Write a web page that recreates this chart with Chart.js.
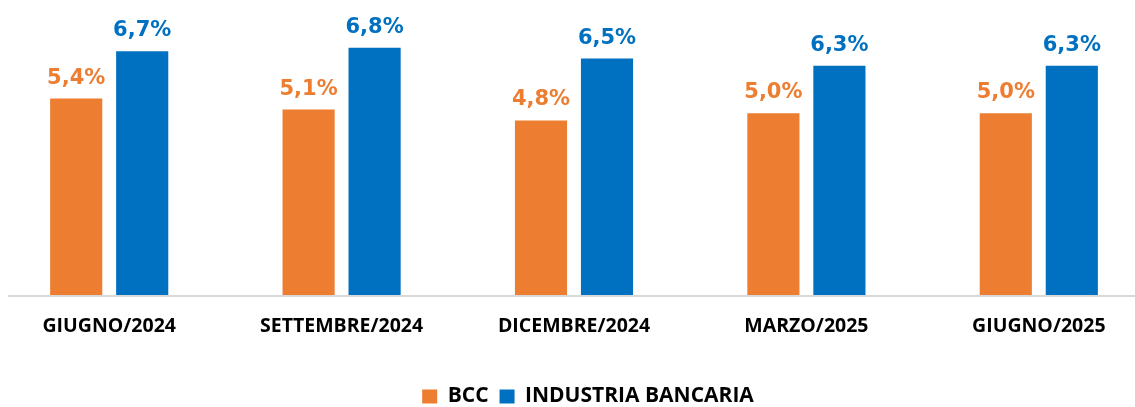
<!DOCTYPE html>
<html>
<head>
<meta charset="utf-8">
<script src="https://cdn.jsdelivr.net/npm/chart.js@4.4.1/dist/chart.umd.min.js"></script>
<style>
  html, body { margin: 0; padding: 0; background: #ffffff; overflow: hidden; }
  #wrap { position: absolute; left: -7px; top: 0; width: 1162px; height: 417px; }
</style>
</head>
<body>
<div id="wrap"><canvas id="c"></canvas></div>
<script>
const categories = ['GIUGNO/2024', 'SETTEMBRE/2024', 'DICEMBRE/2024', 'MARZO/2025', 'GIUGNO/2025'];
const seriesNames = ['BCC', 'INDUSTRIA BANCARIA'];
const bccValues = [5.4, 5.1, 4.8, 5.0, 5.0];
const industriaValues = [6.7, 6.8, 6.5, 6.3, 6.3];
const seriesColors = ['#ED7D31', '#0070C0'];

const valueLabels = {
  id: 'valueLabels',
  afterDatasetsDraw(chart) {
    const ctx = chart.ctx;
    ctx.save();
    ctx.font = 'bold 21px "DejaVu Sans"';
    ctx.textAlign = 'center';
    ctx.textBaseline = 'alphabetic';
    chart.data.datasets.forEach((ds, i) => {
      const meta = chart.getDatasetMeta(i);
      ctx.fillStyle = ds.backgroundColor;
      meta.data.forEach((el, j) => {
        const txt = ds.data[j].toFixed(1).replace('.', ',') + '%';
        ctx.fillText(txt, el.x, el.y - 15);
      });
    });
    ctx.restore();
  }
};

const baseLine = {
  id: 'baseLine',
  beforeDatasetsDraw(chart) {
    const ctx = chart.ctx;
    const y = chart.scales.y.getPixelForValue(0);
    ctx.save();
    ctx.strokeStyle = '#D9D9D9';
    ctx.lineWidth = 2;
    ctx.beginPath();
    ctx.moveTo(chart.chartArea.left + 15, y + 1);
    ctx.lineTo(chart.width, y + 1);
    ctx.stroke();
    ctx.restore();
  }
};

const legendShift = {
  id: 'legendShift',
  afterLayout(chart) {
    if (chart.legend) {
      chart.legend.left += 14;
      chart.legend.right += 14;
    }
  }
};

new Chart(document.getElementById('c'), {
  type: 'bar',
  data: {
    labels: categories,
    datasets: [
      { label: seriesNames[0], data: bccValues, backgroundColor: seriesColors[0], categoryPercentage: 0.568, barPercentage: 0.79 },
      { label: seriesNames[1], data: industriaValues, backgroundColor: seriesColors[1], categoryPercentage: 0.568, barPercentage: 0.79 }
    ]
  },
  options: {
    responsive: true,
    maintainAspectRatio: false,
    animation: false,
    layout: { padding: { top: 4, left: 0, right: 0, bottom: 0 } },
    scales: {
      x: {
        grid: { display: false },
        border: { display: false },
        ticks: { color: '#000000', font: { family: '"Open Sans"', weight: 'bold', size: 19.5 }, padding: 11.5, maxRotation: 0 }
      },
      y: {
        display: false,
        min: 0,
        max: 8
      }
    },
    plugins: {
      legend: {
        position: 'bottom',
        title: { display: true, text: '', font: { size: 10 }, padding: { top: 0, bottom: 13.5 } },
        labels: {
          color: '#000000',
          font: { family: '"Open Sans"', weight: 'bold', size: 21 },
          boxWidth: 15,
          boxHeight: 14,
          padding: 11
        }
      },
      tooltip: { enabled: false }
    }
  },
  plugins: [baseLine, valueLabels, legendShift]
});
</script>
</body>
</html>
